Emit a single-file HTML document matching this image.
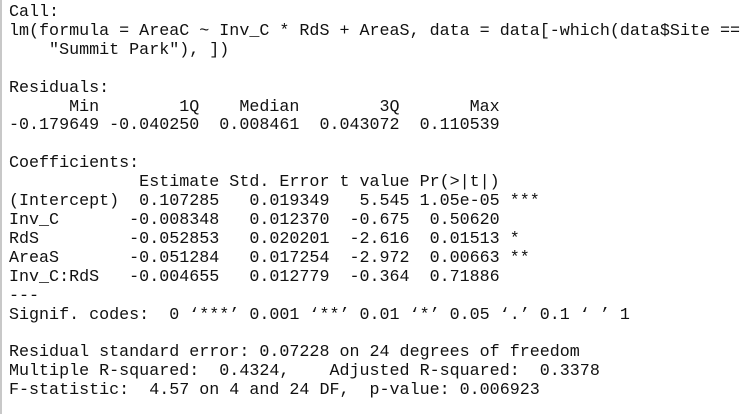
<!DOCTYPE html>
<html><head><meta charset="utf-8"><style>
html,body{margin:0;padding:0;background:#fff;width:756px;height:414px;overflow:hidden}
#out{position:absolute;left:0;top:0;width:756px;height:414px;border-left:2px solid #c8c8c8;box-sizing:border-box}
pre{margin:0;position:absolute;left:7px;top:4px;font-family:"Liberation Mono",monospace;font-size:16.7px;line-height:18.9px;color:#111}
</style></head><body>
<div id="out">
<pre>Call:
lm(formula = AreaC ~ Inv_C * RdS + AreaS, data = data[-which(data$Site ==
    "Summit Park"), ])

Residuals:
      Min        1Q    Median        3Q       Max
-0.179649 -0.040250  0.008461  0.043072  0.110539

Coefficients:
             Estimate Std. Error t value Pr(>|t|)
(Intercept)  0.107285   0.019349   5.545 1.05e-05 ***
Inv_C       -0.008348   0.012370  -0.675  0.50620
RdS         -0.052853   0.020201  -2.616  0.01513 *
AreaS       -0.051284   0.017254  -2.972  0.00663 **
Inv_C:RdS   -0.004655   0.012779  -0.364  0.71886
---
Signif. codes:  0 ‘***’ 0.001 ‘**’ 0.01 ‘*’ 0.05 ‘.’ 0.1 ‘ ’ 1

Residual standard error: 0.07228 on 24 degrees of freedom
Multiple R-squared:  0.4324,	Adjusted R-squared:  0.3378
F-statistic:  4.57 on 4 and 24 DF,  p-value: 0.006923</pre>
</div>
</body></html>
